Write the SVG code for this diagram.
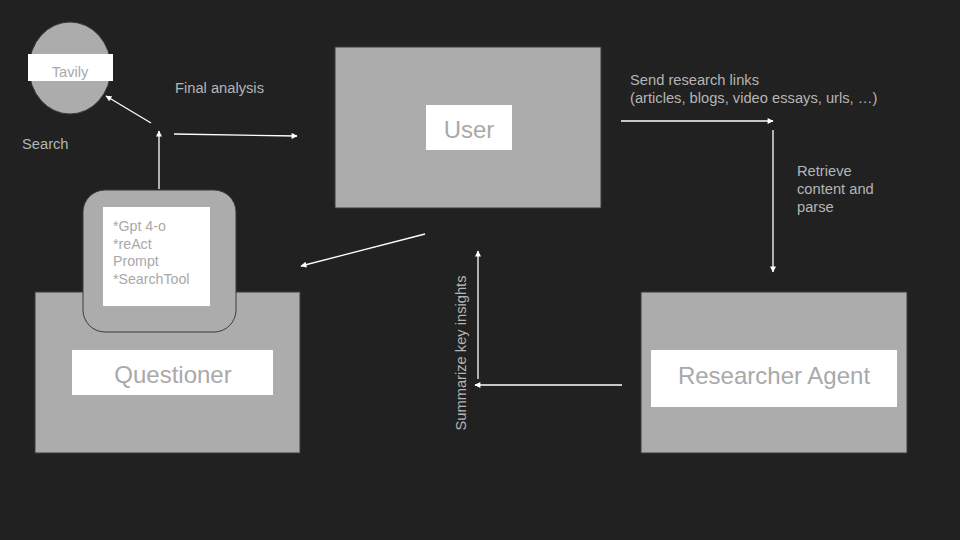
<svg xmlns="http://www.w3.org/2000/svg" width="960" height="540" viewBox="0 0 960 540">
<defs>
<marker id="ah" viewBox="0 0 10 10" refX="9" refY="5" markerWidth="8" markerHeight="6" markerUnits="userSpaceOnUse" orient="auto">
<path d="M0,0 L10,5 L0,10 z" fill="#ffffff"/>
</marker>
<style>
.box{fill:#acacac;stroke:#3a3a3a;stroke-width:1}
.lbl{fill:#ffffff}
.nt{font-family:"Liberation Sans",Arial,sans-serif;fill:#a9a9a9;text-anchor:middle}
.t{font-family:"Liberation Sans",Arial,sans-serif;fill:#b5b5b5;font-size:14.7px}
.c{stroke:#ffffff;stroke-width:1.3;fill:none;marker-end:url(#ah)}
</style>
</defs>
<rect x="0" y="0" width="960" height="540" fill="#212121"/>

<g id="tavily">
<ellipse cx="70" cy="68" rx="41" ry="46" class="box"/>
<rect x="28" y="54" width="85" height="27" class="lbl"/>
<text x="70" y="77" class="nt" font-size="14.7">Tavily</text>
</g>

<g id="user">
<rect x="335" y="47" width="266" height="161" class="box"/>
<rect x="426" y="105" width="86" height="45" class="lbl"/>
<text x="469" y="138" class="nt" font-size="24">User</text>
</g>

<g id="questioner">
<rect x="35" y="292" width="265" height="161" class="box"/>
<rect x="72" y="350" width="201" height="45" class="lbl"/>
<text x="173" y="383" class="nt" font-size="24">Questioner</text>
</g>

<g id="tools">
<rect x="83" y="190" width="153" height="142" rx="22" ry="22" class="box"/>
<rect x="103" y="207" width="107" height="99" class="lbl"/>
<g font-family="'Liberation Sans',Arial,sans-serif" font-size="14.2" fill="#a9a9a9">
<text x="113" y="231">*Gpt 4-o</text>
<text x="113" y="248.5">*reAct</text>
<text x="113" y="266">Prompt</text>
<text x="113" y="284">*SearchTool</text>
</g>
</g>

<g id="researcher">
<rect x="641" y="292" width="266" height="161" class="box"/>
<rect x="651" y="350" width="246" height="57" class="lbl"/>
<text x="774" y="384" class="nt" font-size="24">Researcher Agent</text>
</g>

<g id="connectors">
<line x1="151" y1="123" x2="106" y2="96" class="c"/>
<line x1="159" y1="189" x2="159" y2="131" class="c"/>
<line x1="174" y1="134" x2="297" y2="136" class="c"/>
<line x1="621" y1="121" x2="773" y2="121" class="c"/>
<line x1="773" y1="130" x2="773" y2="272" class="c"/>
<line x1="622" y1="385" x2="475" y2="385" class="c"/>
<line x1="478" y1="379" x2="478" y2="251" class="c"/>
<line x1="425" y1="234" x2="301" y2="266" class="c"/>
</g>

<g id="labels">
<text x="175" y="93" class="t">Final analysis</text>
<text x="22" y="149" class="t">Search</text>
<text x="630" y="85" class="t">Send research links</text>
<text x="630" y="103" class="t">(articles, blogs, video essays, urls, …)</text>
<text x="797" y="176" class="t">Retrieve</text>
<text x="797" y="194" class="t">content and</text>
<text x="797" y="212" class="t">parse</text>
<text x="0" y="0" class="t" text-anchor="middle" transform="translate(466,353) rotate(-90)">Summarize key insights</text>
</g>
</svg>
